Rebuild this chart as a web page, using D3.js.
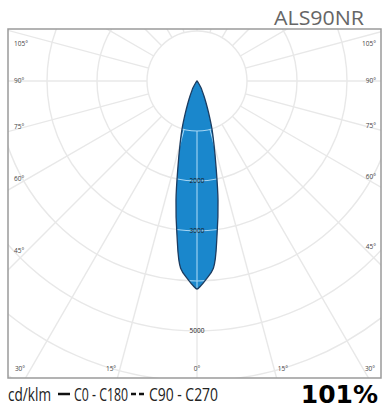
<!DOCTYPE html>
<html>
<head>
<meta charset="utf-8">
<script src="https://cdn.jsdelivr.net/npm/d3@7"></script>
<style>
  body { margin: 0; background: #fff; }
  svg { display: block; }
</style>
</head>
<body>
<svg id="chart" width="385" height="412"></svg>
<script>
// photometric curve C0 - C180, angle from nadir (deg) and intensity (cd/klm)
const angles = [0, 1, 2.5, 5, 7.5, 10, 12.5, 15, 17.5, 20, 22.5, 25, 27.5, 30, 35, 40, 45];
const intensity = [4160, 4100, 3980, 3760, 3080, 2420, 1760, 1310, 980, 680, 470, 330, 230, 170, 60, 10, 0];

const gridRadii = [1000, 2000, 3000, 4000, 5000, 6000, 7000, 8000];
const radiusLabels = [2000, 3000, 5000];
const gridAngles = d3.range(0, 360, 15);
const angleLabels = [0, 15, 30, 45, 60, 75, 90, 105];

const title = 'ALS90NR';
const unit = 'cd/klm';
const series1 = 'C0 - C180';
const series2 = 'C90 - C270';
const ratio = '101%';

const frame = {x0: 8, y0: 29, x1: 381, y1: 378};
const cx = 197, cy = 81;

const r = d3.scaleLinear().domain([0, 1000]).range([0, 50]);

const svg = d3.select('#chart');
const defs = svg.append('defs');

defs.append('clipPath')
    .attr('id', 'frameClip')
  .append('rect')
    .attr('x', frame.x0).attr('y', frame.y0)
    .attr('width', frame.x1 - frame.x0).attr('height', frame.y1 - frame.y0);

// beam outline (0 deg points down)
const pts = [];
for (let i = angles.length - 1; i >= 0; i--) pts.push([Math.PI + angles[i] * Math.PI / 180, intensity[i]]);
for (let i = 1; i < angles.length; i++) pts.push([Math.PI - angles[i] * Math.PI / 180, intensity[i]]);

const beamLine = d3.lineRadial()
    .angle(d => d[0])
    .radius(d => r(d[1]))
    .curve(d3.curveCatmullRomClosed);

defs.append('clipPath')
    .attr('id', 'beamClip')
  .append('path')
    .attr('transform', `translate(${cx},${cy})`)
    .attr('d', beamLine(pts));

const drawGrid = (parent, color, width) => {
  const g = parent.append('g').attr('transform', `translate(${cx},${cy})`);
  g.selectAll('circle')
      .data(gridRadii)
    .enter().append('circle')
      .attr('r', d => r(d))
      .attr('fill', 'none')
      .attr('stroke', color)
      .attr('stroke-width', width);
  g.selectAll('line')
      .data(gridAngles)
    .enter().append('line')
      .attr('x1', d => r(1000) * Math.sin(d * Math.PI / 180))
      .attr('y1', d => r(1000) * Math.cos(d * Math.PI / 180))
      .attr('x2', d => r(9000) * Math.sin(d * Math.PI / 180))
      .attr('y2', d => r(9000) * Math.cos(d * Math.PI / 180))
      .attr('stroke', color)
      .attr('stroke-width', width);
  return g;
};

drawGrid(svg.append('g').attr('clip-path', 'url(#frameClip)'), '#e8e8e8', 1.4);

// beam fill
svg.append('path')
    .attr('transform', `translate(${cx},${cy})`)
    .attr('d', beamLine(pts))
    .attr('fill', '#1a87cc')
    .attr('stroke', 'none');

// grid seen through the beam
drawGrid(svg.append('g').attr('clip-path', 'url(#beamClip)'), '#a6d6f4', 1.1);

svg.append('path')
    .attr('transform', `translate(${cx},${cy})`)
    .attr('d', beamLine(pts))
    .attr('fill', 'none')
    .attr('stroke', '#1c3c60')
    .attr('stroke-width', 1.3);

// radius labels
svg.selectAll('.rlabel')
    .data(radiusLabels)
  .enter().append('text')
    .attr('class', 'rlabel')
    .attr('x', cx)
    .attr('y', d => cy + r(d))
    .attr('dy', '0.35em')
    .attr('text-anchor', 'middle')
    .attr('font-family', 'Open Sans, sans-serif')
    .attr('font-size', 6.5)
    .attr('fill', '#1a1a1a')
    .text(d => d);

// angle labels at the frame
const labelPos = (a, side) => {
  const t = a * Math.PI / 180;
  const dx = side * Math.sin(t), dy = Math.cos(t);
  const tx = dx > 0 ? (frame.x1 - cx) / dx : dx < 0 ? (frame.x0 - cx) / dx : Infinity;
  const ty = dy > 0 ? (frame.y1 - cy) / dy : dy < 0 ? (frame.y0 - cy) / dy : Infinity;
  if (ty < tx) {
    const xi = cx + dx * ty;
    return {x: Math.max(20, Math.min(370, cx + (xi - cx) * 1.08)), y: frame.y1 - 9, anchor: 'middle'};
  }
  const yi = cy + dy * tx;
  return {
    x: side < 0 ? frame.x0 + 6 : frame.x1 - 5,
    y: Math.max(frame.y0 + 15, cy + (yi - cy) * 0.9),
    anchor: side < 0 ? 'start' : 'end'
  };
};

const angleData = [];
angleLabels.forEach(a => {
  angleData.push({a: a, p: labelPos(a, -1)});
  if (a > 0) angleData.push({a: a, p: labelPos(a, 1)});
});

svg.selectAll('.alabel')
    .data(angleData)
  .enter().append('text')
    .attr('class', 'alabel')
    .attr('x', d => d.p.x)
    .attr('y', d => d.p.y)
    .attr('dy', '0.35em')
    .attr('text-anchor', d => d.p.anchor)
    .attr('font-family', 'Open Sans, sans-serif')
    .attr('font-size', 6.5)
    .attr('fill', '#444')
    .text(d => d.a + '°');

// frame
svg.append('rect')
    .attr('x', frame.x0).attr('y', frame.y0)
    .attr('width', frame.x1 - frame.x0).attr('height', frame.y1 - frame.y0)
    .attr('fill', 'none')
    .attr('stroke', '#9a9a9a')
    .attr('stroke-width', 1.5);

// title
svg.append('text')
    .attr('x', 364).attr('y', 25)
    .attr('text-anchor', 'end')
    .attr('font-family', 'Open Sans, sans-serif')
    .attr('font-size', 20)
    .attr('textLength', 90)
    .attr('lengthAdjust', 'spacingAndGlyphs')
    .attr('fill', '#666')
    .text(title);

// legend (condensed look via textLength)
const ly = 401;
const legendText = (x, len, txt) => svg.append('text')
    .attr('x', x).attr('y', ly)
    .attr('font-family', 'Open Sans, sans-serif')
    .attr('font-size', 18)
    .attr('textLength', len)
    .attr('lengthAdjust', 'spacingAndGlyphs')
    .attr('fill', '#222')
    .text(txt);

legendText(8, 43, unit);
svg.append('line')
    .attr('x1', 58).attr('x2', 70).attr('y1', ly - 7).attr('y2', ly - 7)
    .attr('stroke', '#111').attr('stroke-width', 2.5);
legendText(74, 54, series1);
svg.append('line')
    .attr('x1', 131).attr('x2', 146).attr('y1', ly - 7).attr('y2', ly - 7)
    .attr('stroke', '#111').attr('stroke-width', 2.5)
    .attr('stroke-dasharray', '5,3');
legendText(149, 69, series2);

svg.append('text')
    .attr('x', 378).attr('y', 403)
    .attr('text-anchor', 'end')
    .attr('font-family', 'DejaVu Sans, sans-serif')
    .attr('font-weight', 'bold')
    .attr('font-size', 25)
    .attr('fill', '#000')
    .text(ratio);
</script>
</body>
</html>
